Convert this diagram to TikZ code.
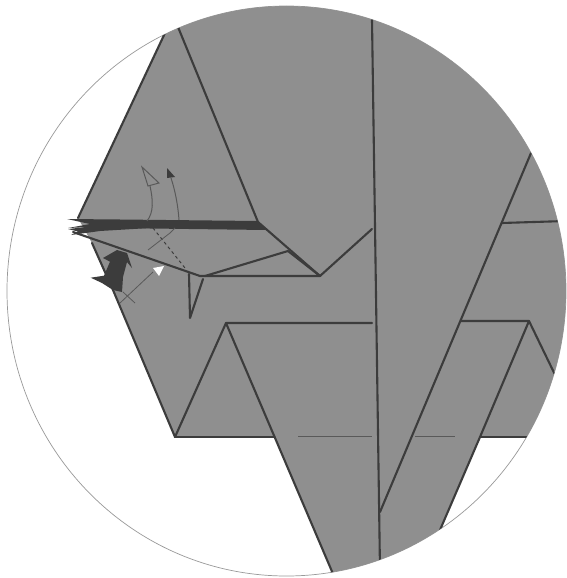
\documentclass[tikz,border=0pt]{standalone}
\definecolor{paper}{HTML}{8F8F8F}
\definecolor{ink}{HTML}{3C3C3C}
\tikzset{fold/.style={draw=ink,line width=2.1pt,line cap=round,line join=round},
thinl/.style={draw=ink!85!white,line width=0.8pt},
rim/.style={draw=black!40,line width=0.7pt}}
\begin{document}
\begin{tikzpicture}[x=1pt,y=-1pt]
\useasboundingbox (0,0) rectangle (566,578);
\fill[white] (0,0) rectangle (566,578);
\draw[rim] (286.5,291) ellipse[x radius=279.5,y radius=285];
\begin{scope}
\clip (286.5,291) ellipse[x radius=279.5,y radius=285];
\fill[paper] (178,0) -- (165,33) -- (78,218) -- (92,243) -- (113,290) -- (175,437) -- (274.5,437) -- (345,602) -- (430,600) -- (440,530) -- (480,437) -- (566,437) -- (566,0) -- cycle;
\draw[fold] (178,27) -- (258,222) -- (320,276) -- (372,229);
\draw[fold] (165,33) -- (78,218);
\draw[fold] (372,20) -- (380,570);
\draw[fold] (380,512) -- (531,153);
\draw[fold] (502,223) -- (566,221);
\draw[fold] (461,321) -- (529,321) -- (560,385);
\draw[fold] (529,321) -- (480,437) -- (440,530);
\draw[fold] (480,437) -- (566,437);
\draw[fold] (175,437) -- (226,323) -- (372,323);
\draw[fold] (226,323) -- (345,602);
\draw[fold] (175,437) -- (274.5,437);
\draw[fold] (92,243) -- (113,290) -- (175,437);
\draw[thinl] (298,436) -- (372,436);
\draw[thinl] (415,436) -- (455,436);
\end{scope}
% layered edge
\fill[ink] (67,219) -- (120,219.5) -- (258,221) -- (266,230) -- (150,228.5) -- (90,227) -- (68,228) -- (90,224) -- cycle;
\fill[ink] (68,229) -- (95,226) -- (150,228) -- (100,231) -- (71,235) -- (78,231.5) -- cycle;
\draw[fold] (73,232) -- (200,276) -- (320,276);
\draw[fold] (205,276) -- (288,251) -- (320,276);
\draw[fold] (189,274) -- (190,318) -- (203,279);
% dark arrow
\fill[ink] (90.7,277.7) -- (104,275.7) -- (110,261.7) -- (103,258) -- (117,250) -- (127,253) -- (132,268) -- (127,262) -- (123,277) -- (122,292) -- (113,290) -- (102,283) -- cycle;
% fold arrows
\draw[thinl,line width=1pt] (142,167) -- (159,183) -- (148,186) -- cycle;
\draw[thinl,line width=1pt] (150,186) .. controls (153,200) and (154,212) .. (147,221);
\fill[ink] (167,168) -- (175,177) -- (167,178) -- cycle;
\draw[thinl,line width=1pt] (171,178) .. controls (175,190) and (178,205) .. (179,220);
\draw[ink,line width=1pt,dashed] (153,228) -- (185,268);
\draw[thinl] (148,250) -- (170,233) -- (175,228);
\fill[white] (153,268) -- (164,266) -- (159,276) -- cycle;
\draw[thinl] (120,303) -- (153,272);
\draw[thinl] (123,292) -- (135,303);
\end{tikzpicture}
\end{document}
